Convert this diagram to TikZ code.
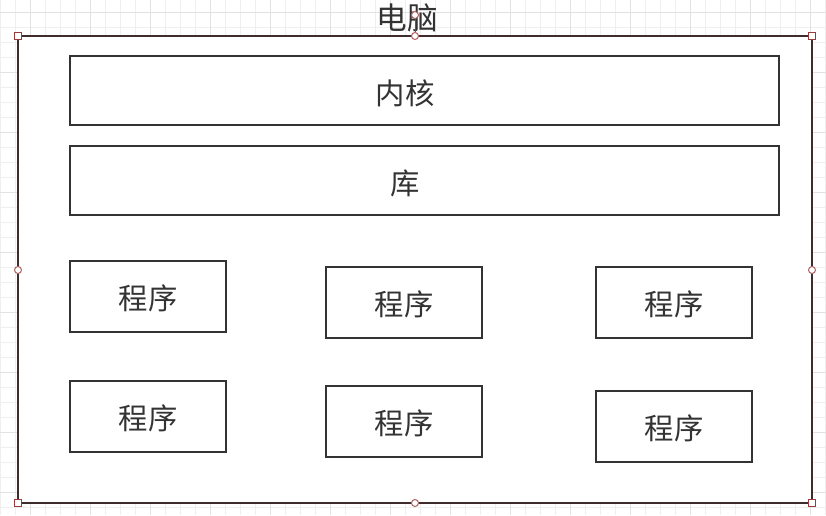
\documentclass[tikz,border=0pt]{standalone}
\usepackage{fontspec}
\newfontfamily\cjk{Noto Sans CJK SC}
\definecolor{ink}{HTML}{333333}
\definecolor{gridminor}{HTML}{EFEFEF}
\definecolor{gridmajor}{HTML}{E2E2E2}
\definecolor{handle}{HTML}{9A3B3B}
\definecolor{frame}{HTML}{3E2C2C}
\begin{document}
\begin{tikzpicture}[x=0.75pt,y=-0.75pt,
  box/.style={draw=ink,line width=1.5pt,fill=white,inner sep=0pt},
  label text/.style={font=\cjk\fontsize{22}{24}\selectfont,text=ink,inner sep=0pt},
  cornerhandle/.style={draw=handle,fill=white,line width=0.75pt,minimum size=5.25pt,inner sep=0pt},
  sidehandle/.style={circle,draw=handle!80,fill=white,line width=0.75pt,minimum size=5.25pt,inner sep=0pt}]
% canvas
\fill[white] (0,0) rectangle (826,515);
\useasboundingbox (0,0) rectangle (826,515);
% background grid
\foreach \gx in {0,15,...,825}{\draw[gridminor,line width=0.75pt] (\gx,0) -- (\gx,515);}
\foreach \gy in {12,27,...,515}{\draw[gridminor,line width=0.75pt] (0,\gy) -- (826,\gy);}
\foreach \gx in {30,90,...,825}{\draw[gridmajor,line width=0.75pt] (\gx,0) -- (\gx,515);}
\foreach \gy in {12,72,...,515}{\draw[gridmajor,line width=0.75pt] (0,\gy) -- (826,\gy);}
% container
\node[box,draw=frame,minimum width=595.5pt,minimum height=350.25pt] (pc) at (415,269.5) {};
\node[label text,font=\cjk\fontsize{23}{25}\selectfont] (pctitle) at (407,18) {电脑};
% layers
\node[box,minimum width=531.75pt,minimum height=51.75pt] (kernel) at (424.5,90.5) {};
\node[label text] (kerneltext) at (405,93) {内核};
\node[box,minimum width=531.75pt,minimum height=51.75pt] (lib) at (424.5,180.5) {};
\node[label text] (libtext) at (405,183) {库};
% programs
\foreach \nm/\cx/\cy in {p1/148/296.5, p2/404/302.5, p3/674/302.5,
                         p4/148/416.5, p5/404/421.5, p6/674/426.5}{
  \node[box,minimum width=117pt,minimum height=53.25pt] (\nm) at (\cx,\cy) {};
  \node[label text] (\nm-text) at ([yshift=-1.5pt]\nm.center) {程序};
}
% selection handles
\foreach \nm/\hx/\hy in {h1/18/36, h2/812/36, h3/18/503, h4/812/503}{
  \node[cornerhandle] (\nm) at (\hx,\hy) {};
}
\foreach \nm/\hx/\hy in {s1/415/36, s2/18/270, s3/812/270, s4/415/503}{
  \node[sidehandle] (\nm) at (\hx,\hy) {};
}
\node[sidehandle] (rot) at (415,15) {};
\draw[handle,line width=0.75pt] (rot) -- (s1);
\end{tikzpicture}
\end{document}
